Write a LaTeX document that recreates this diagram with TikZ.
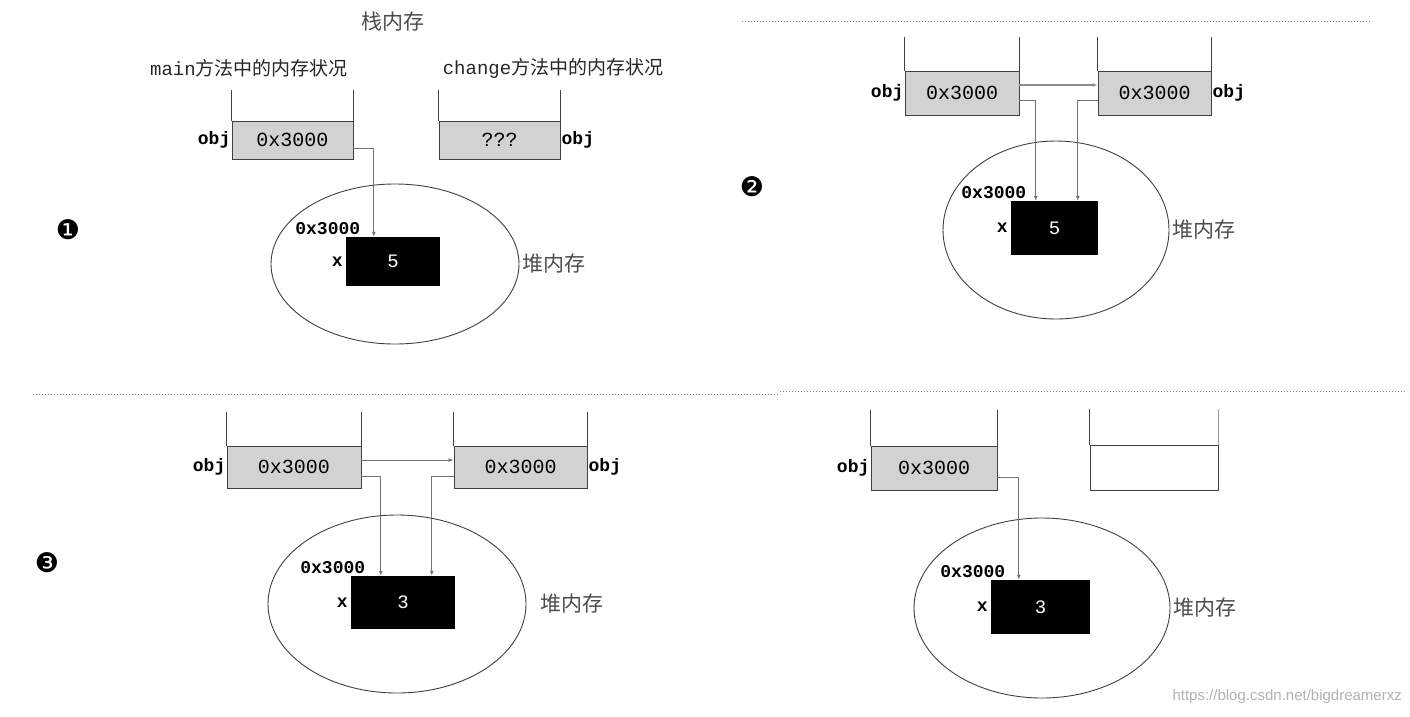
\documentclass[tikz,border=0pt]{standalone}
\usepackage{fontspec}
\setmainfont{DejaVu Sans}
\newfontfamily\cjk{Noto Sans CJK SC}
\newfontfamily\mono{Liberation Mono}
\newfontfamily\symf{DejaVu Sans}
\newfontfamily\wmf{Liberation Sans}
\usetikzlibrary{arrows.meta,shapes.geometric}
\begin{document}
\begin{tikzpicture}[x=1pt,y=-1pt,
  stackbox/.style={draw=black!75, fill=gray!35, line width=0.9pt, inner sep=0pt,
    font=\mono\fontsize{20}{20}\selectfont},
  emptybox/.style={draw=black!75, line width=0.9pt, inner sep=0pt},
  wall/.style={draw=black!75, line width=0.9pt},
  heapbox/.style={fill=black, text=white, inner sep=0pt, font=\mono\fontsize{19}{19}\selectfont},
  heap/.style={draw=black!75, line width=0.9pt, ellipse, inner sep=0pt},
  conn/.style={draw=black!55, line width=0.9pt, -{Latex[length=5pt,width=4pt]}},
  lbl/.style={inner sep=1pt, font=\mono\bfseries\fontsize{18}{18}\selectfont},
  cn/.style={inner sep=0pt, text=black!70, font=\cjk\fontsize{21}{21}\selectfont},
  title/.style={inner sep=0pt, text=black!85, font=\fontsize{19}{19}\selectfont},
  num/.style={inner sep=0pt, font=\symf\fontsize{27}{27}\selectfont},
  sep/.style={draw=black!50, line width=1pt, dotted},
]
\useasboundingbox (0,0) rectangle (1410,716);

% ---------------- panel 1 ----------------
\node[cn] (t1) at (393,22) {栈内存};
\node[title] (t1a) at (249,68) {{\mono main}{\cjk 方法中的内存状况}};
\node[title] (t1b) at (553,68) {{\mono change}{\cjk 方法中的内存状况}};
\node[stackbox, minimum width=121pt, minimum height=38pt] (m1) at (292.5,140) {0x3000};
\node[stackbox, minimum width=121pt, minimum height=38pt] (c1) at (499.5,140) {???};
\draw[wall] (m1.north west) -- ++(0,-31);
\draw[wall] (m1.north east) -- ++(0,-31);
\draw[wall] (c1.north west) -- ++(0,-31);
\draw[wall] (c1.north east) -- ++(0,-31);
\node[lbl, anchor=east] (om1) at (m1.west) {obj};
\node[lbl, anchor=west] (oc1) at (c1.east) {obj};
\node[heap, minimum width=248pt, minimum height=160pt] (h1) at (395,264) {};
\node[heapbox, minimum width=94pt, minimum height=49pt] (x1) at (393,261.5) {5};
\node[lbl, anchor=east] (xl1) at ([xshift=-2pt]x1.west) {x};
\node[lbl, anchor=south] (a1) at ([xshift=-18pt,yshift=1pt]x1.north west) {0x3000};
\node[cn, anchor=west] (hl1) at ([xshift=3pt]h1.east) {堆内存};
\draw[conn] ([yshift=-8pt]m1.east) -| ([xshift=28pt]x1.north west);
\node[num] (n1) at (68,230) {❶};

% ---------------- panel 2 ----------------
\coordinate (s2a) at (742,21);
\coordinate (s2b) at (1372,21);
\draw[sep] (s2a) -- (s2b);
\node[stackbox, minimum width=114pt, minimum height=44pt] (m2) at (962,93) {0x3000};
\node[stackbox, minimum width=113pt, minimum height=44pt] (c2) at (1154.5,93) {0x3000};
\draw[wall] (m2.north west) -- ++(0,-34);
\draw[wall] (m2.north east) -- ++(0,-34);
\draw[wall] (c2.north west) -- ++(0,-34);
\draw[wall] (c2.north east) -- ++(0,-34);
\node[lbl, anchor=east] (om2) at (m2.west) {obj};
\node[lbl, anchor=west] (oc2) at (c2.east) {obj};
\node[heap, minimum width=226pt, minimum height=178pt] (h2) at (1056,230) {};
\node[heapbox, minimum width=87pt, minimum height=54pt] (x2) at (1054.5,228) {5};
\node[lbl, anchor=east] (xl2) at ([xshift=-2pt]x2.west) {x};
\node[lbl, anchor=south] (a2) at ([xshift=-17pt,yshift=1pt]x2.north west) {0x3000};
\node[cn, anchor=west] (hl2) at ([xshift=3pt]h2.east) {堆内存};
\draw[conn, line width=1.6pt, draw=black!45] ([yshift=8pt]m2.east) -- ([yshift=8pt]c2.west);
\draw[conn] ([yshift=-7pt]m2.east) -| ([xshift=25pt]x2.north west);
\draw[conn] ([yshift=-7pt]c2.west) -| ([xshift=67pt]x2.north west);
\node[num] (n2) at (752,187) {❷};

% ---------------- panel 3 ----------------
\coordinate (s3a) at (33,394);
\coordinate (s3b) at (780,394);
\draw[sep] (s3a) -- (s3b);
\node[stackbox, minimum width=134pt, minimum height=42pt] (m3) at (294,467) {0x3000};
\node[stackbox, minimum width=133pt, minimum height=42pt] (c3) at (520.5,467) {0x3000};
\draw[wall] (m3.north west) -- ++(0,-34);
\draw[wall] (m3.north east) -- ++(0,-34);
\draw[wall] (c3.north west) -- ++(0,-34);
\draw[wall] (c3.north east) -- ++(0,-34);
\node[lbl, anchor=east] (om3) at (m3.west) {obj};
\node[lbl, anchor=west] (oc3) at (c3.east) {obj};
\node[heap, minimum width=258pt, minimum height=178pt] (h3) at (397,604) {};
\node[heapbox, minimum width=104pt, minimum height=53pt] (x3) at (403,602.5) {3};
\node[lbl, anchor=east] (xl3) at ([xshift=-2pt]x3.west) {x};
\node[lbl, anchor=south] (a3) at ([xshift=-18pt,yshift=1pt]x3.north west) {0x3000};
\node[cn, anchor=west] (hl3) at ([xshift=14pt]h3.east) {堆内存};
\draw[conn] ([yshift=7pt]m3.east) -- ([yshift=7pt]c3.west);
\draw[conn] ([yshift=-9pt]m3.east) -| ([xshift=30pt]x3.north west);
\draw[conn] ([yshift=-9pt]c3.west) -| ([xshift=81pt]x3.north west);
\node[num] (n3) at (47,563) {❸};

% ---------------- panel 4 ----------------
\coordinate (s4a) at (780,391);
\coordinate (s4b) at (1405,391);
\draw[sep] (s4a) -- (s4b);
\node[stackbox, minimum width=126pt, minimum height=44pt] (m4) at (934,468) {0x3000};
\node[emptybox, minimum width=128pt, minimum height=45pt] (c4) at (1154,467.5) {};
\draw[wall] (m4.north west) -- ++(0,-36);
\draw[wall] (m4.north east) -- ++(0,-36);
\draw[wall] (c4.north west) -- ++(0,-36);
\draw[wall, draw=black!40] (c4.north east) -- ++(0,-36);
\node[lbl, anchor=east] (om4) at (m4.west) {obj};
\node[heap, minimum width=256pt, minimum height=180pt] (h4) at (1042,608) {};
\node[heapbox, minimum width=99pt, minimum height=54pt] (x4) at (1040.5,607) {3};
\node[lbl, anchor=east] (xl4) at ([xshift=-2pt]x4.west) {x};
\node[lbl, anchor=south] (a4) at ([xshift=-18pt,yshift=1pt]x4.north west) {0x3000};
\node[cn, anchor=west] (hl4) at ([xshift=3pt]h4.east) {堆内存};
\draw[conn] ([yshift=-9pt]m4.east) -| ([xshift=28pt]x4.north west);
\node[inner sep=0pt, text=black!30, font=\wmf\fontsize{15}{15}\selectfont, anchor=east] (wm) at (1402,697) {https://blog.csdn.net/bigdreamerxz};
\end{tikzpicture}
\end{document}
